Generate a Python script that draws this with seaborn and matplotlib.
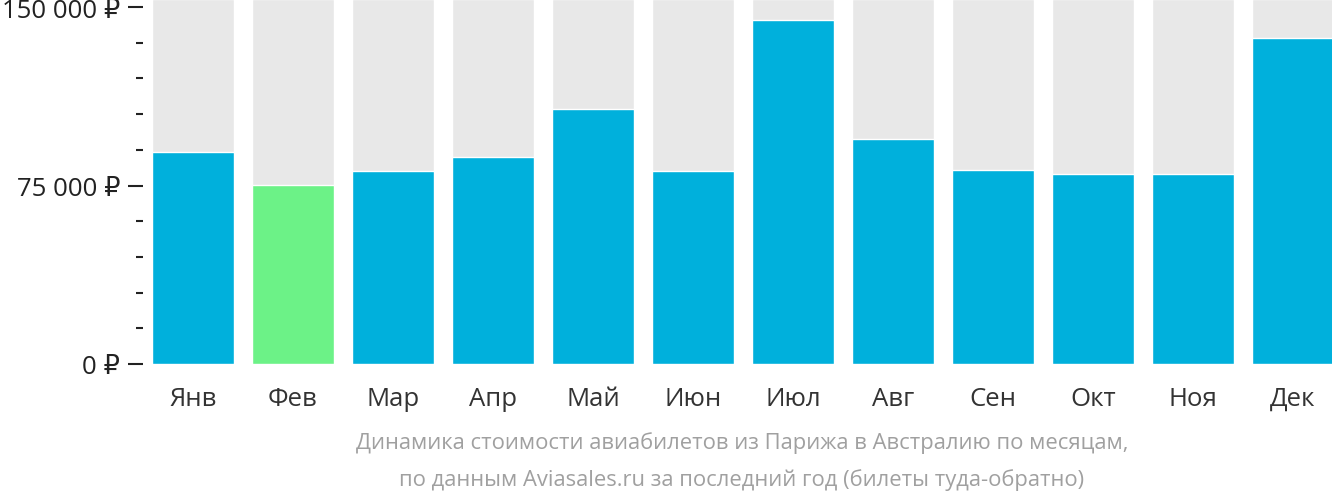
import matplotlib
matplotlib.use("Agg")
import matplotlib.pyplot as plt
import seaborn as sns
import pandas as pd
from matplotlib.ticker import FixedLocator, MultipleLocator

months = ["Янв", "Фев", "Мар", "Апр", "Май", "Июн", "Июл", "Авг", "Сен", "Окт", "Ноя", "Дек"]
prices = [89000, 75200, 81100, 87000, 107100, 81100, 144500, 94500, 81500, 79800, 79800, 137000]
major_ticks = [0, 75000, 150000]
major_labels = ["0 ₽", "75 000 ₽", "150 000 ₽"]
caption = ["Динамика стоимости авиабилетов из Парижа в Австралию по месяцам,",
           "по данным Aviasales.ru за последний год (билеты туда-обратно)"]

sns.set_theme(style="white")
plt.rcParams['font.family'] = ['Open Sans', 'DejaVu Sans']

BLUE = "#00b0dc"
GREEN = "#6cf287"
GRAY = "#e8e8e8"
YMAX = 153400

df = pd.DataFrame({"month": months, "price": prices, "bg": [YMAX] * len(months)})
cheapest = months[prices.index(min(prices))]
palette = {m: (GREEN if m == cheapest else BLUE) for m in months}

fig = plt.figure(figsize=(13.32, 5.02), dpi=100)
ax = fig.add_axes([143 / 1332, (502 - 365) / 502, (1332 - 143) / 1332, 365 / 502])

sns.barplot(data=df, x="month", y="bg", color=GRAY, width=0.82, ax=ax, saturation=1)
sns.barplot(data=df, x="month", y="price", hue="month", palette=palette, legend=False,
            width=0.82, ax=ax, saturation=1)

ax.set_ylim(0, YMAX)
ax.set_xlim(-0.5, (1332 - 193) / 100)
for s in ax.spines.values():
    s.set_visible(False)
ax.set_xlabel("")
ax.set_ylabel("")

ax.yaxis.set_major_locator(FixedLocator(major_ticks))
ax.set_yticklabels(major_labels)
ax.yaxis.set_minor_locator(MultipleLocator(15000))
ax.tick_params(axis="y", which="major", left=True, length=11, width=1.5, color="#222222",
               pad=5.5, labelsize=18.5, labelcolor="#222222")
ax.tick_params(axis="y", which="minor", left=True, length=5, width=1.5, color="#222222")
ax.tick_params(axis="x", which="both", bottom=False, length=0, pad=16, labelsize=18.5,
               labelcolor="#333333")

fig.text(742 / 1332, 1 - 443 / 502, caption[0], ha="center", va="center",
         fontsize=15.8, color="#a0a0a0")
fig.text(742 / 1332, 1 - 480 / 502, caption[1], ha="center", va="center",
         fontsize=15.8, color="#a0a0a0")

fig.savefig("out.png", dpi=100)
